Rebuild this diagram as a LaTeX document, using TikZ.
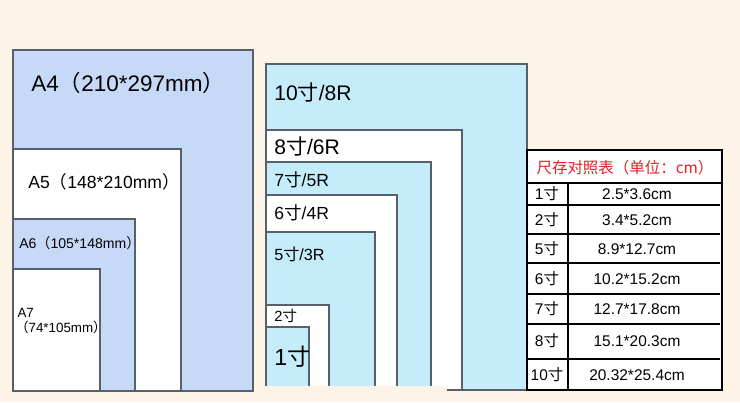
\documentclass[tikz,border=0pt]{standalone}
\usepackage{fontspec}
\setmainfont{Liberation Sans}
\newfontfamily\cjk{Noto Sans CJK SC}
\newcommand{\cun}{{\cjk 寸}}
\newcommand{\lp}{{\cjk （}}
\newcommand{\rp}{{\cjk ）}}

\begin{document}
\begin{tikzpicture}[x=0.025cm, y=-0.025cm]
		% Define colors
		\definecolor{pagebg}{RGB}{253, 244, 231}
		\definecolor{aseries}{RGB}{198, 218, 247}
		\definecolor{photo}{RGB}{196, 236, 250}
		\definecolor{edge}{RGB}{88, 96, 106}
		\definecolor{titlered}{RGB}{228, 30, 38}

		% Styles
		\tikzstyle{abox} = [fill=aseries, draw=edge, line width=0.8pt]
		\tikzstyle{pbox} = [fill=photo, draw=edge, line width=0.8pt]
		\tikzstyle{wbox} = [fill=white, draw=edge, line width=0.8pt]
		\tikzstyle{size_label} = [anchor=west, inner sep=0pt, align=left]
		\tikzstyle{cell} = [inner sep=0pt, font=\fontsize{11pt}{13pt}\selectfont]

		% Background
		\fill[pagebg] (0,0) rectangle (740,402);

		% A series (left)
		\draw[abox] (13,50) rectangle (253,391);
		\draw[wbox] (13,149) rectangle (181,391);
		\draw[abox] (13,219) rectangle (135,391);
		\draw[wbox] (13,269) rectangle (100,391);

		\node[size_label, font=\fontsize{16pt}{19pt}\selectfont] (a4) at (31,83) {A4\lp210*297mm\rp};
		\node[size_label, font=\fontsize{12.5pt}{15pt}\selectfont] (a5) at (28,182) {A5\lp148*210mm\rp};
		\node[size_label, font=\fontsize{10pt}{12pt}\selectfont] (a6) at (19,243) {A6\lp105*148mm\rp};
		\node[size_label, font=\fontsize{9.5pt}{11pt}\selectfont] (a7) at (15,321) {\,A7\\\lp74*105mm\rp};

		% Photo sizes (middle)
		\draw[pbox] (266,64) rectangle (527,390);
		\draw[wbox] (266,130) rectangle (462,390);
		\draw[pbox] (266,162) rectangle (431,390);
		\draw[wbox] (266,195) rectangle (397,390);
		\draw[pbox] (266,232) rectangle (375,390);
		\draw[wbox] (266,305) rectangle (329,390);
		\draw[pbox] (266,327) rectangle (309,390);
		\fill[pagebg] (262,386) rectangle (447,402);

		\node[size_label, font=\fontsize{15pt}{18pt}\selectfont] (r8) at (274,93) {10\cun/8R};
		\node[size_label, font=\fontsize{15pt}{18pt}\selectfont] (r6) at (274,147) {8\cun/6R};
		\node[size_label, font=\fontsize{12.5pt}{15pt}\selectfont] (r5) at (274,180) {7\cun/5R};
		\node[size_label, font=\fontsize{12.5pt}{15pt}\selectfont] (r4) at (274,213) {6\cun/4R};
		\node[size_label, font=\fontsize{11.5pt}{14pt}\selectfont] (r3) at (274,254) {5\cun/3R};
		\node[size_label, font=\fontsize{10.5pt}{13pt}\selectfont] (c2) at (274,316) {2\cun};
		\node[size_label, font=\fontsize{16.5pt}{19pt}\selectfont] (c1) at (274,357) {1\cun};

		% Size table (right)
		\draw[fill=white, line width=1.4pt] (527,150) rectangle (722,390);
		\draw[line width=1pt] (527,183) -- (722,183);
		\draw[line width=1pt] (527,205) -- (720,205);
		\draw[line width=1pt] (527,234) -- (720,234);
		\draw[line width=1pt] (527,263) -- (720,263);
		\draw[line width=1pt] (527,294) -- (720,294);
		\draw[line width=1pt] (527,324) -- (720,324);
		\draw[line width=1pt] (527,359) -- (720,359);
		\draw[line width=1pt] (568,183) -- (568,390);

		\node[cell, text=titlered, font=\cjk\fontsize{11pt}{13pt}\selectfont] (title) at (625,168) {尺存对照表（单位：cm）};

		\node[cell] (k1) at (547,194) {1\cun};
		\node[cell] (k2) at (547,220) {2\cun};
		\node[cell] (k5) at (547,249) {5\cun};
		\node[cell] (k6) at (547,279) {6\cun};
		\node[cell] (k7) at (547,309) {7\cun};
		\node[cell] (k8) at (547,341) {8\cun};
		\node[cell] (k10) at (547,375) {10\cun};

		\node[cell] (v1) at (637,194) {2.5*3.6cm};
		\node[cell] (v2) at (637,220) {3.4*5.2cm};
		\node[cell] (v5) at (637,249) {8.9*12.7cm};
		\node[cell] (v6) at (637,279) {10.2*15.2cm};
		\node[cell] (v7) at (637,309) {12.7*17.8cm};
		\node[cell] (v8) at (637,341) {15.1*20.3cm};
		\node[cell] (v10) at (637,375) {20.32*25.4cm};

		\useasboundingbox (0,0) rectangle (740,402);
	\end{tikzpicture}
\end{document}
